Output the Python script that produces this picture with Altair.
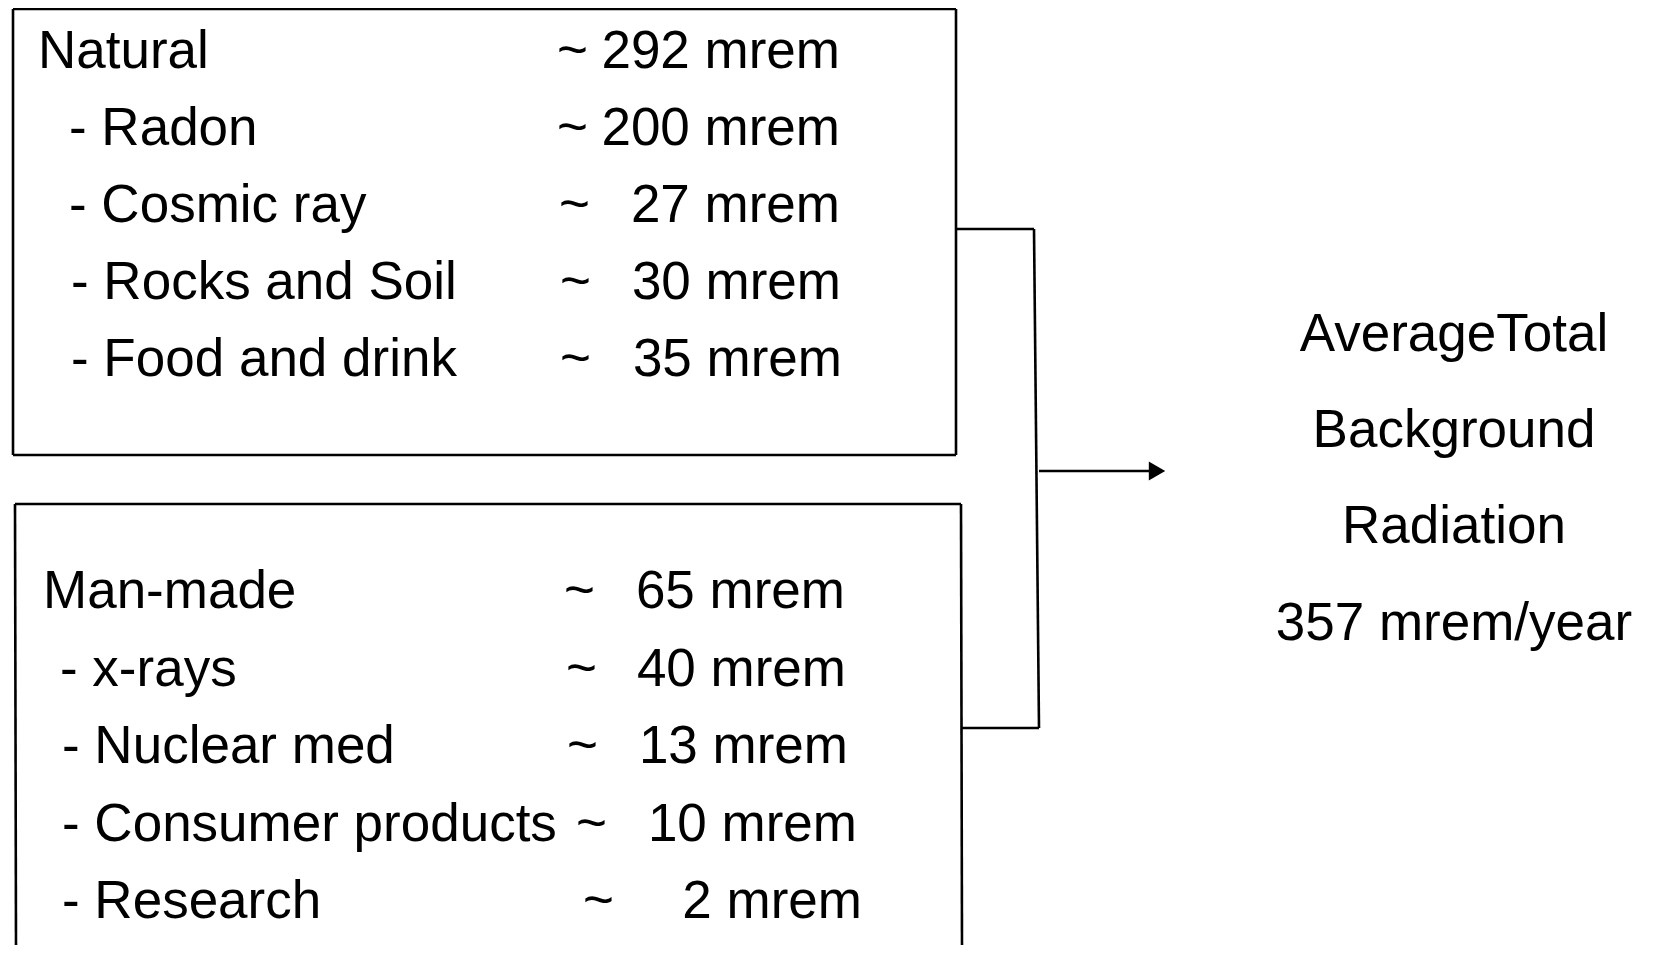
import altair as alt
import pandas as pd

# ---- data ----
natural_labels = ["Natural", "- Radon", "- Cosmic ray", "- Rocks and Soil", "- Food and drink"]
natural_values = [292, 200, 27, 30, 35]
manmade_labels = ["Man-made", "- x-rays", "- Nuclear med", "- Consumer products", "- Research"]
manmade_values = [65, 40, 13, 10, 2]
total_lines = ["AverageTotal", "Background", "Radiation", "357 mrem/year"]
unit = "mrem"

# ---- layout (page pixel coordinates) ----
top_baselines = [67.6, 144.6, 221.6, 298.6, 375.6]
top_label_x = [38, 69, 69, 71, 71]
top_tilde_x = [557, 557, 559, 560, 560]
top_value_right = [840, 840, 840, 841, 842]

bot_baselines = [608, 685.5, 763, 840.5, 918]
bot_label_x = [43, 60, 62, 62, 62]
bot_tilde_x = [564, 566, 567, 576, 583]
bot_value_right = [845, 846, 848, 857, 862]

right_center_x = 1454
right_baselines = [350.6, 446.6, 542.5, 639.5]

FONT = "Liberation Sans"
FS = 53
W, H = 1637, 937

rows = []
for lab, v, yb, lx, tx, vx in zip(natural_labels, natural_values, top_baselines,
                                    top_label_x, top_tilde_x, top_value_right):
    rows.append(dict(label=lab, value=f"{v} {unit}", y=yb, lx=lx, tx=tx, vx=vx))
for lab, v, yb, lx, tx, vx in zip(manmade_labels, manmade_values, bot_baselines,
                                    bot_label_x, bot_tilde_x, bot_value_right):
    rows.append(dict(label=lab, value=f"{v} {unit}", y=yb, lx=lx, tx=tx, vx=vx))
df = pd.DataFrame(rows)
df["tilde"] = "~"

right_df = pd.DataFrame({"text": total_lines, "y": right_baselines, "x": [right_center_x] * 4})

segments = pd.DataFrame([
    # natural box
    dict(x=13, y=9, x2=956, y2=9),
    dict(x=13, y=9, x2=13, y2=455),
    dict(x=956, y=9, x2=956, y2=455),
    dict(x=13, y=455, x2=956, y2=455),
    # man-made box (cut off at bottom)
    dict(x=15, y=504, x2=961, y2=504),
    dict(x=15, y=504, x2=16, y2=945),
    dict(x=961, y=504, x2=962, y2=945),
    # connector
    dict(x=956, y=229, x2=1034, y2=229),
    dict(x=1034, y=229, x2=1039, y2=728),
    dict(x=961, y=728, x2=1039, y2=728),
    # arrow shaft
    dict(x=1039, y=471, x2=1152, y2=471),
])
arrow_head = pd.DataFrame({"x": [1157], "y": [471]})

xs = alt.Scale(domain=[8, 8 + W])
ys = alt.Scale(domain=[8, 8 + H], reverse=True)

lines = alt.Chart(segments).mark_rule(color="black", strokeWidth=2.6).encode(
    x=alt.X("x:Q", scale=xs, axis=None),
    y=alt.Y("y:Q", scale=ys, axis=None),
    x2="x2:Q", y2="y2:Q",
)

head = alt.Chart(arrow_head).mark_point(shape="triangle-right", filled=True, color="black",
                                        size=360, opacity=1).encode(
    x=alt.X("x:Q", scale=xs, axis=None),
    y=alt.Y("y:Q", scale=ys, axis=None),
)

txt_kw = dict(font=FONT, fontSize=FS, color="black", baseline="alphabetic")

labels = alt.Chart(df).mark_text(align="left", **txt_kw).encode(
    x=alt.X("lx:Q", scale=xs, axis=None),
    y=alt.Y("y:Q", scale=ys, axis=None),
    text="label:N",
)
tildes = alt.Chart(df).mark_text(align="left", **txt_kw).encode(
    x=alt.X("tx:Q", scale=xs, axis=None),
    y=alt.Y("y:Q", scale=ys, axis=None),
    text="tilde:N",
)
values = alt.Chart(df).mark_text(align="right", **txt_kw).encode(
    x=alt.X("vx:Q", scale=xs, axis=None),
    y=alt.Y("y:Q", scale=ys, axis=None),
    text="value:N",
)
right = alt.Chart(right_df).mark_text(align="center", **txt_kw).encode(
    x=alt.X("x:Q", scale=xs, axis=None),
    y=alt.Y("y:Q", scale=ys, axis=None),
    text="text:N",
)

chart = alt.layer(lines, head, labels, tildes, values, right).properties(
    width=W, height=H, padding=0, autosize="none", background="white"
).configure_view(stroke=None)

chart.save("out.html", embed_options={"renderer": "svg", "actions": False})
